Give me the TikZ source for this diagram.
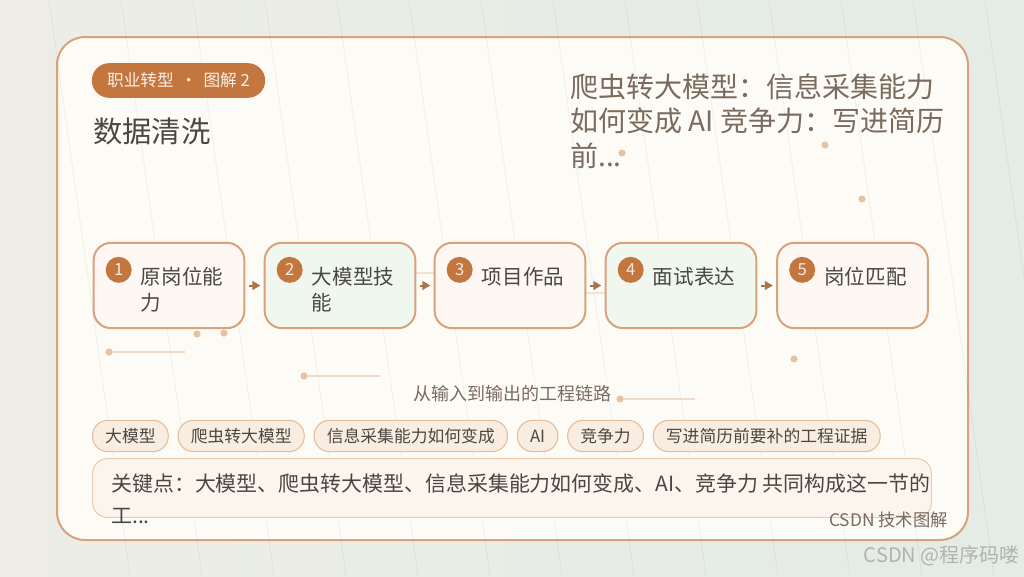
\documentclass[tikz,border=0pt]{standalone}
\usepackage{fontspec}
\setmainfont{Noto Sans CJK SC}
\usepackage{xcolor}
\usepackage{tikz}
\usetikzlibrary{positioning,arrows.meta}
\definecolor{bgleft}{HTML}{EEEDE7}
\definecolor{bgright}{HTML}{E3ECE5}
\definecolor{cardfill}{HTML}{FCFBF6}
\definecolor{cardline}{HTML}{D8A27C}
\definecolor{rust}{HTML}{C4763F}
\definecolor{warmfill}{HTML}{FDF8F3}
\definecolor{mintfill}{HTML}{EFF7EF}
\definecolor{tagfill}{HTML}{F9EDE1}
\definecolor{tagline}{HTML}{E4BE9C}
\definecolor{inktext}{HTML}{4A4743}
\definecolor{softtext}{HTML}{7A6B5E}
\definecolor{dotcolor}{HTML}{E6C3A6}
\definecolor{arrowcolor}{HTML}{A8744C}

\tikzset{
  stepbox/.style={draw=cardline, line width=1.5pt, rounded corners=13pt, minimum width=113pt, minimum height=64pt, inner sep=0pt},
  numdot/.style={circle, fill=rust, minimum size=19.5pt, inner sep=0pt, text=white!85!rust, font=\fontsize{12.5}{12.5}\selectfont},
  steptext/.style={anchor=north west, inner sep=0pt, align=left, text=inktext, font=\fontsize{15.4}{19.5}\selectfont},
  steparrow/.style={draw=arrowcolor, line width=1.5pt, -{Triangle[length=6pt,width=6.5pt]}, shorten <=2.5pt, shorten >=2.5pt},
  tag/.style={draw=tagline, fill=tagfill, line width=0.8pt, rounded corners=11.5pt, minimum height=23.5pt, inner xsep=9.5pt, inner ysep=0pt, text=inktext, font=\fontsize{12.6}{12.6}\selectfont},
  faint/.style={draw=black, opacity=0.05, line width=0.6pt}
}

\begin{document}
\begin{tikzpicture}[x=0.75pt, y=-0.75pt]
    \useasboundingbox (0,0) rectangle (1024,576);
    \clip (0,0) rectangle (1024,576);
    % Page background and card
    \shade[left color=bgleft, right color=bgright] (0,0) rectangle (1024,576);
    \draw[fill=cardfill, draw=cardline, line width=1.5pt, rounded corners=21pt] (57,37) rectangle (968,540);
    \foreach \k in {-1,...,13} {
        \draw[faint] (121+72*\k,0) -- (202+72*\k,576);
    }

    % Decoration dots and lines
    \draw[dotcolor!60, line width=0.8pt] (109,352) -- (185,352);
    \draw[dotcolor!60, line width=0.8pt] (304,376) -- (380,376);
    \draw[dotcolor!60, line width=0.8pt] (620,399) -- (695,399);
    \draw[dotcolor!50, line width=0.8pt] (405,273) -- (445,273);
    \draw[dotcolor!50, line width=0.8pt] (575,293) -- (615,293);
    \foreach \p in {(622,153),(825,145),(862,199),(197,334),(224,333),(109,352),(304,376),(620,399),(794,359)} {
        \fill[dotcolor] \p circle[radius=2.7pt];
    }

    % Badge and titles
    \node[fill=rust, rounded corners=13pt, minimum width=130pt, minimum height=26pt, inner sep=0pt, text=white!88!rust, font=\fontsize{12.5}{12.5}\selectfont] (badge) at (178.5,80.5) {职业转型 \,·\, 图解 2};
    \node[anchor=north west, inner sep=0pt, text=inktext, font=\fontsize{22}{22}\selectfont] (title) at (93,118) {数据清洗};
    \node[anchor=north west, inner sep=0pt, align=left, text=softtext, font=\fontsize{21}{26}\selectfont] (headline) at (570,73) {爬虫转大模型：信息采集能力\\如何变成 AI 竞争力：写进简历\\前...};

    % Step 1
    \node[stepbox, fill=warmfill] (s1) at (169,285.5) {};
    \node[numdot] (n1) at ([shift={(26,28)}]s1.north west) {1};
    \node[steptext] (t1) at ([shift={(48,25)}]s1.north west) {原岗位能\\力};

    % Step 2
    \node[stepbox, fill=mintfill] (s2) at (340,285.5) {};
    \node[numdot] (n2) at ([shift={(26,28)}]s2.north west) {2};
    \node[steptext] (t2) at ([shift={(48,25)}]s2.north west) {大模型技\\能};

    % Step 3
    \node[stepbox, fill=warmfill] (s3) at (510,285.5) {};
    \node[numdot] (n3) at ([shift={(26,28)}]s3.north west) {3};
    \node[steptext] (t3) at ([shift={(48,25)}]s3.north west) {项目作品};

    % Step 4
    \node[stepbox, fill=mintfill] (s4) at (681,285.5) {};
    \node[numdot] (n4) at ([shift={(26,28)}]s4.north west) {4};
    \node[steptext] (t4) at ([shift={(48,25)}]s4.north west) {面试表达};

    % Step 5
    \node[stepbox, fill=warmfill] (s5) at (852.5,285.5) {};
    \node[numdot] (n5) at ([shift={(26,28)}]s5.north west) {5};
    \node[steptext] (t5) at ([shift={(48,25)}]s5.north west) {岗位匹配};

    % Arrows between steps
    \draw[steparrow] (s1) -- (s2);
    \draw[steparrow] (s2) -- (s3);
    \draw[steparrow] (s3) -- (s4);
    \draw[steparrow] (s4) -- (s5);

    \node[text=softtext, font=\fontsize{13.5}{13.5}\selectfont] (chain) at (512,394) {从输入到输出的工程链路};

    % Keyword tags
    \node[tag, anchor=west] (g1) at (92,436) {大模型};
    \node[tag, right=6.6pt of g1] (g2) {爬虫转大模型};
    \node[tag, right=6.6pt of g2] (g3) {信息采集能力如何变成};
    \node[tag, right=6.6pt of g3] (g4) {AI};
    \node[tag, right=6.6pt of g4] (g5) {竞争力};
    \node[tag, right=6.6pt of g5] (g6) {写进简历前要补的工程证据};

    % Key point box
    \node[draw=tagline!80, fill=tagfill!55, line width=0.8pt, rounded corners=11pt, minimum width=629pt, minimum height=44pt] (keybox) at (512,488) {};
    \node[anchor=north west, inner sep=0pt, align=left, text=inktext, font=\fontsize{15.7}{24}\selectfont] (keytext) at (111,473) {关键点：大模型、爬虫转大模型、信息采集能力如何变成、AI、竞争力 共同构成这一节的\\工...};

    % Footer and watermark
    \node[anchor=south east, inner sep=0pt, text=softtext, font=\fontsize{13}{13}\selectfont] (footer) at (948,528) {CSDN 技术图解};
    \node[anchor=east, inner sep=0pt, text=black!30, font=\fontsize{15}{15}\selectfont] (mark) at (1020,556) {CSDN @程序码喽};
\end{tikzpicture}
\end{document}
